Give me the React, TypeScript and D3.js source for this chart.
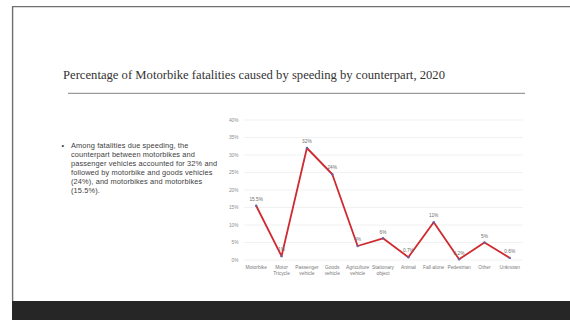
import React from "react";
import * as d3 from "d3";

const categories: string[][] = [
  ["Motorbike"],
  ["Motor", "Tricycle"],
  ["Passenger", "vehicle"],
  ["Goods", "vehicle"],
  ["Agriculture", "vehicle"],
  ["Stationary", "object"],
  ["Animal"],
  ["Fall alone"],
  ["Pedestrian"],
  ["Other"],
  ["Unknown"],
];
const values: number[] = [15.5, 1.1, 32, 24.5, 4, 6.2, 0.8, 10.8, 0.2, 5, 0.6];
const valueLabels: string[] = ["15.5%", "1%", "32%", "24%", "4%", "6%", "0.7%", "11%", "0.2%", "5%", "0.6%"];
const yTicks: number[] = [0, 5, 10, 15, 20, 25, 30, 35, 40];

const title = "Percentage of Motorbike fatalities caused by speeding by counterpart, 2020";
const bulletLines: string[] = [
  "Among fatalities due speeding, the",
  "counterpart between motorbikes and",
  "passenger vehicles accounted for 32% and",
  "followed by motorbike and goods vehicles",
  "(24%),  and motorbikes and motorbikes",
  "(15.5%).",
];

export default function App() {
  const W = 570;
  const H = 320;
  const x = d3
    .scaleBand<number>()
    .domain(categories.map((_, i) => i))
    .range([243.5, 522.5]);
  const y = d3.scaleLinear().domain([0, 40]).range([260, 120]);
  const cx = (i: number) => (x(i) as number) + x.bandwidth() / 2;
  const line = d3
    .line<number>()
    .x((_, i) => cx(i))
    .y((d) => y(d));

  return (
    <div style={{ position: "fixed", left: 0, top: 0 }}>
      <svg width={W} height={H} style={{ display: "block", background: "#fff" }}>
        {/* slide frame */}
        <line x1={12} y1={6.6} x2={W} y2={6.6} stroke="#6f6f6f" strokeWidth={1.4} />
        <line x1={12.6} y1={6} x2={12.6} y2={301} stroke="#6f6f6f" strokeWidth={1.4} />
        <rect x={12} y={301} width={W - 12} height={H - 301} fill="#262626" />

        {/* title */}
        <text
          x={63}
          y={79}
          fontFamily="'Liberation Serif', 'DejaVu Serif', serif"
          fontSize={13}
          fill="#333333"
          textLength={382}
          lengthAdjust="spacingAndGlyphs"
        >
          {title}
        </text>
        <line x1={68} y1={93.3} x2={525} y2={93.3} stroke="#9a9a9a" strokeWidth={1.3} />

        {/* bullet */}
        <g fontFamily="'Liberation Sans', Arial, sans-serif" fontSize={7.4} fill="#404040" letterSpacing={0.12}>
          <text x={61.5} y={148}>•</text>
          {bulletLines.map((t, i) => (
            <text key={i} x={71} y={148.3 + i * 9}>
              {t}
            </text>
          ))}
        </g>

        {/* gridlines & y axis */}
        <g fontFamily="'Liberation Sans', Arial, sans-serif" fontSize={4.8} fill="#8c8c8c">
          {yTicks.map((t) => (
            <g key={t}>
              <line x1={244} x2={523} y1={y(t)} y2={y(t)} stroke="#e8e8e8" strokeWidth={0.6} />
              <text x={238.5} y={y(t)} dy="0.35em" textAnchor="end">
                {t}%
              </text>
            </g>
          ))}
        </g>

        {/* x labels */}
        <g fontFamily="'Liberation Sans', Arial, sans-serif" fontSize={4.9} fill="#7a7a7a" textAnchor="middle">
          {categories.map((c, i) =>
            c.map((s, j) => (
              <text key={i + "-" + j} x={cx(i)} y={269.3 + j * 5.6}>
                {s}
              </text>
            ))
          )}
        </g>

        {/* line */}
        <path d={line(values) || ""} fill="none" stroke="#cf2a2f" strokeWidth={1.8} strokeLinejoin="round" />
        {values.map((v, i) => (
          <circle key={i} cx={cx(i)} cy={y(v)} r={1.2} fill="#6a5fa8" />
        ))}

        {/* value labels */}
        <g fontFamily="'Liberation Sans', Arial, sans-serif" fontSize={4.8} fill="#6e6e6e" textAnchor="middle">
          {values.map((v, i) => (
            <text key={i} x={cx(i)} y={y(v) - 4.8}>
              {valueLabels[i]}
            </text>
          ))}
        </g>
      </svg>
    </div>
  );
}
